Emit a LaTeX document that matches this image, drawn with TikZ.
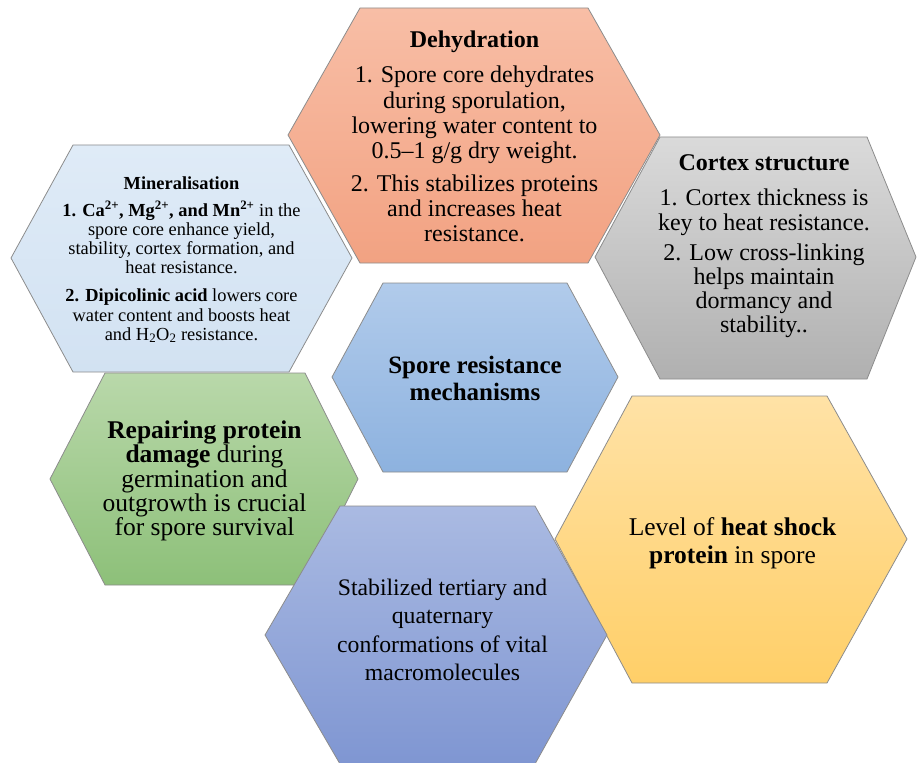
\documentclass[tikz,border=0pt]{standalone}
\usepackage{fontspec}
\setmainfont{Liberation Serif}
\usetikzlibrary{positioning}
\definecolor{cellline}{HTML}{8C8C8C}
\definecolor{mineralA}{HTML}{DFEBF7}
\definecolor{mineralB}{HTML}{D2E2F2}
\definecolor{dehydA}{HTML}{F8BEA6}
\definecolor{dehydB}{HTML}{F2A282}
\definecolor{cortexA}{HTML}{DADADA}
\definecolor{cortexB}{HTML}{B0B0B0}
\definecolor{repairA}{HTML}{B9D8AA}
\definecolor{repairB}{HTML}{8DC079}
\definecolor{coreA}{HTML}{B1CBEB}
\definecolor{coreB}{HTML}{8DB2DF}
\definecolor{shockA}{HTML}{FFE2A6}
\definecolor{shockB}{HTML}{FFCF68}
\definecolor{stableA}{HTML}{AABAE2}
\definecolor{stableB}{HTML}{7F96D2}
\newcommand{\hexfont}[2]{\fontsize{#1}{#2}\selectfont}

\begin{document}
\begin{tikzpicture}[x=1pt, y=-1pt,
  cell/.style={draw=cellline, line width=0.8pt},
  celltext/.style={align=center, inner sep=0pt, text=black},
]

\useasboundingbox (0,0) rectangle (917,762);
\clip (0,0) rectangle (917,762);

% hexagon cells
\path[cell, top color=mineralA, bottom color=mineralB]
  (11,258) -- (73,145) -- (289,145) -- (352,258) -- (289,372) -- (73,372) -- cycle;
\path[cell, top color=dehydA, bottom color=dehydB]
  (288,135) -- (360,8) -- (588,8) -- (660,135) -- (588,263) -- (360,263) -- cycle;
\path[cell, top color=cortexA, bottom color=cortexB]
  (595,257) -- (660,137) -- (867,137) -- (916,257) -- (867,379) -- (660,379) -- cycle;
\path[cell, top color=coreA, bottom color=coreB]
  (332,377) -- (383,283) -- (567,283) -- (618,377) -- (567,472) -- (383,472) -- cycle;
\path[cell, top color=repairA, bottom color=repairB]
  (50,479) -- (105,373) -- (305,373) -- (358,479) -- (305,585) -- (105,585) -- cycle;
\path[cell, top color=shockA, bottom color=shockB]
  (555,539) -- (632,396) -- (827,396) -- (907,539) -- (827,683) -- (632,683) -- cycle;
\path[cell, top color=stableA, bottom color=stableB]
  (265,635) -- (340,506) -- (535,506) -- (607,635) -- (535,764) -- (340,764) -- cycle;

% cell texts
\node[celltext, font=\hexfont{18.4}{19.2}] (mineral) at (181.5,260) {%
  \textbf{Mineralisation}\\[7pt]
  \textbf{1. Ca\textsuperscript{2+}, Mg\textsuperscript{2+}, and Mn\textsuperscript{2+}} in the\\
  spore core enhance yield,\\
  stability, cortex formation, and\\
  heat resistance.\\[9pt]
  \textbf{2. Dipicolinic acid} lowers core\\
  water content and boosts heat\\
  and H\textsubscript{2}O\textsubscript{2} resistance.};

\node[celltext, font=\hexfont{24}{25.3}] (dehyd) at (474.5,136.5) {%
  \textbf{Dehydration}\\[10pt]
  1. Spore core dehydrates\\
  during sporulation,\\
  lowering water content to\\
  0.5--1 g/g dry weight.\\[7pt]
  2. This stabilizes proteins\\
  and increases heat\\
  resistance.};

\node[celltext, font=\hexfont{24}{24.2}] (cortex) at (764,246.5) {%
  \textbf{Cortex structure}\\[11pt]
  1. Cortex thickness is\\
  key to heat resistance.\\[6pt]
  2. Low cross-linking\\
  helps maintain\\
  dormancy and\\
  stability..};

\node[celltext, font=\hexfont{25}{27}] (core) at (475,378.5) {%
  \textbf{Spore resistance}\\
  \textbf{mechanisms}};

\node[celltext, font=\hexfont{25.5}{24.3}] (repair) at (204.5,481) {%
  \textbf{Repairing protein}\\
  \textbf{damage} during\\
  germination and\\
  outgrowth is crucial\\
  for spore survival};

\node[celltext, font=\hexfont{25.5}{28}] (shock) at (732.5,543) {%
  Level of \textbf{heat shock}\\
  \textbf{protein} in spore};

\node[celltext, font=\hexfont{23.7}{28.3}] (stable) at (442.5,630) {%
  Stabilized tertiary and\\
  quaternary\\
  conformations of vital\\
  macromolecules};

\end{tikzpicture}
\end{document}
